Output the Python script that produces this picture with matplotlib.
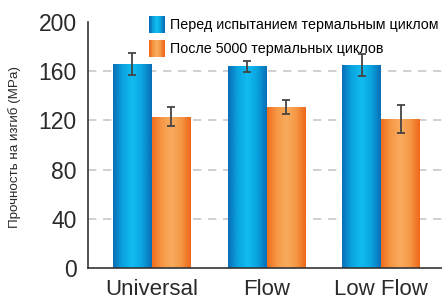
import numpy as np
import matplotlib
matplotlib.use('Agg')
from matplotlib import pyplot as plt
from matplotlib.colors import LinearSegmentedColormap
from matplotlib.patches import Rectangle
from matplotlib.legend_handler import HandlerBase

plt.rcParams['font.family'] = ['Liberation Sans', 'DejaVu Sans']

categories = ['Universal', 'Flow', 'Low Flow']
before = [166, 164, 165]
before_err = [9, 4.5, 9]
after = [123, 131, 121]
after_err = [7.5, 5.5, 11.5]
series_names = ['Перед испытанием термальным циклом', 'После 5000 термальных циклов']
y_ticks = [0, 40, 80, 120, 160, 200]

blue_cmap = LinearSegmentedColormap.from_list('b', ['#0a6db6', '#0aa4e0', '#10bcf0', '#0aa4e0', '#0a6db6'])
orange_cmap = LinearSegmentedColormap.from_list('o', ['#f06c1e', '#f59845', '#f9ab5e', '#f59845', '#f0661a'])
grad = np.linspace(0, 1, 256).reshape(1, -1)


def fill_gradient(ax, bars, cmap):
    for b in bars:
        x0, y0 = b.get_x(), b.get_y()
        w, h = b.get_width(), b.get_height()
        im = ax.imshow(grad, cmap=cmap, aspect='auto', extent=(x0, x0 + w, y0, y0 + h),
                       zorder=2, interpolation='bicubic')
        im.set_clip_path(b)
        b.set_facecolor('none')


class GradHandler(HandlerBase):
    def __init__(self, cmap):
        super().__init__()
        self.cmap = cmap

    def create_artists(self, legend, orig, xd, yd, w, h, fontsize, trans):
        arts = []
        n = 20
        for i in range(n):
            r = Rectangle((xd + w * i / n, yd - 2.5), w / n + 0.3, h + 5,
                          facecolor=self.cmap(i / (n - 1)), edgecolor='none', transform=trans)
            arts.append(r)
        return arts


fig = plt.figure(figsize=(4.42, 2.99), dpi=100)
ax = fig.add_axes([0.199, 0.1037, 0.801, 0.8227])

x = np.arange(len(categories))
width = 0.34

bars1 = ax.bar(x - width / 2, before, width, zorder=2)
bars2 = ax.bar(x + width / 2, after, width, zorder=2)
fill_gradient(ax, bars1, blue_cmap)
fill_gradient(ax, bars2, orange_cmap)

ax.errorbar(x - width / 2, before, yerr=before_err, fmt='none', ecolor='#444444',
            elinewidth=1.3, capsize=3, capthick=1.3, zorder=3)
ax.errorbar(x + width / 2, after, yerr=after_err, fmt='none', ecolor='#444444',
            elinewidth=1.3, capsize=3, capthick=1.3, zorder=3)

ax.set_xlim(-0.557, 2.53)
ax.set_ylim(0, 200)
ax.set_yticks(y_ticks)
ax.set_yticklabels([str(t) for t in y_ticks], fontsize=16.5, color='#2a2a2a')
ax.set_xticks(x)
ax.set_xticklabels(categories, fontsize=16, color='#2a2a2a')
ax.tick_params(length=0)
ax.tick_params(axis='y', pad=8)
ax.tick_params(axis='x', pad=8)

for t in y_ticks[1:-1]:
    ax.axhline(t, color='#c8c8c8', linestyle=(0, (5, 4)), linewidth=1.2, zorder=1)

for s in ['top', 'right']:
    ax.spines[s].set_visible(False)
ax.spines['left'].set_color('#333333')
ax.spines['bottom'].set_color('#333333')
ax.spines['left'].set_linewidth(1.2)
ax.spines['bottom'].set_linewidth(1.2)

ax.set_ylabel('Прочность на изгиб (MPa)', fontsize=9.6, color='#2a2a2a')
ax.yaxis.set_label_coords(-0.19, 0.49)

h1 = Rectangle((0, 0), 1, 1)
h2 = Rectangle((0, 0), 1, 1)
ax.legend([h1, h2], series_names, handler_map={h1: GradHandler(blue_cmap), h2: GradHandler(orange_cmap)},
          loc='upper left', bbox_to_anchor=(0.153, 1.045), frameon=False, fontsize=10.3,
          handlelength=1.05, handletextpad=0.4, labelspacing=0.7, borderpad=0)

fig.savefig('out.png', dpi=100)
